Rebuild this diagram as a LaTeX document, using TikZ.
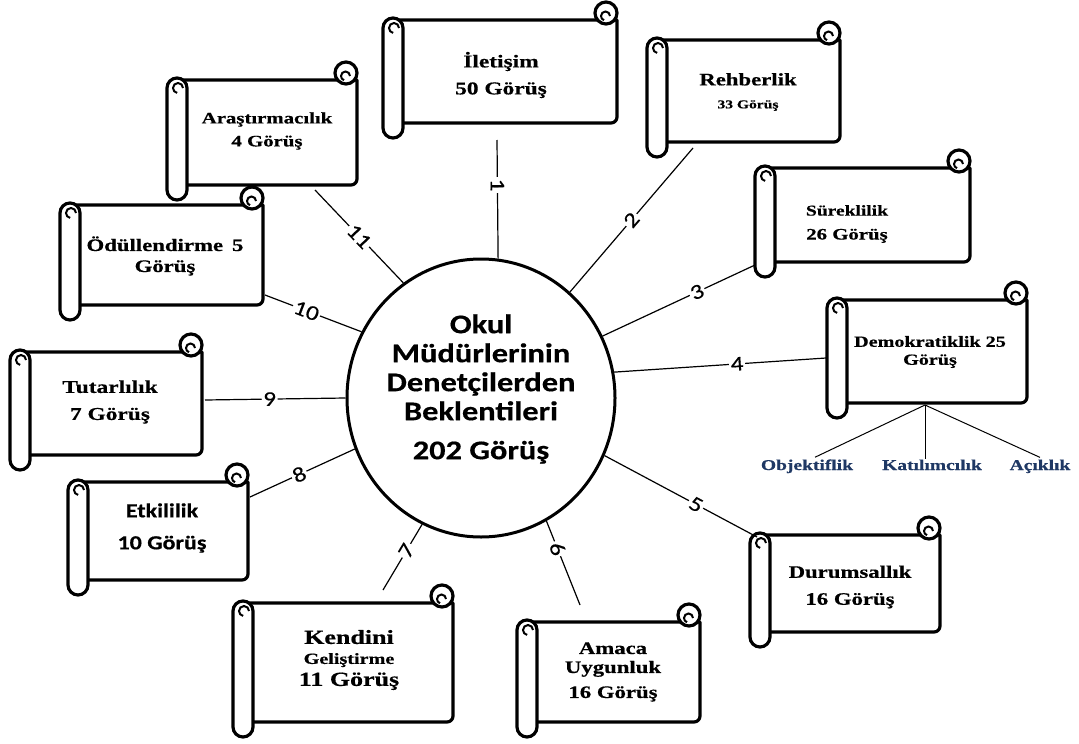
\documentclass[tikz,border=0pt]{standalone}
\usepackage{fontspec}
\setmainfont{Liberation Serif}
\newfontfamily\sheetfont{Liberation Serif}[UprightFont={* Bold}, FakeStretch=1.3, FakeBold=0.6]
\newfontfamily\hubfont{Carlito}[UprightFont={* Bold}, FakeStretch=1.2, FakeBold=0.5]
\newfontfamily\numfont{Carlito}[FakeStretch=1.2, FakeBold=0.4]
\usetikzlibrary{shapes.geometric,positioning,calc}
\definecolor{subblue}{RGB}{31,56,100}
\newcommand\fs[2]{\fontsize{#1}{#2}\selectfont}

\tikzset{
  sheet/.style={draw, line width=3.2pt, fill=white, line join=round},
  curl/.style={draw, line width=2pt},
  sheetbox/.style={inner sep=0pt, outer sep=0pt},
  sheettext/.style={align=center, inner sep=0pt},
  hub/.style={ellipse, draw, line width=3pt, minimum width=268pt, minimum height=278pt, inner sep=0pt},
  link/.style={line width=1.2pt},
  num/.style={sloped, fill=white, inner sep=1.5pt, font=\numfont\fs{21}{21}},
  sublabel/.style={inner sep=0pt, anchor=base, text=subblue, font=\sheetfont\fs{15}{15}}
}

% scroll: name, left, top, right, bottom, text x, text y, font, text
\newcommand\scrollsheet[9]{%
  \draw[sheet] ({#2+10},#3) -- (#4,#3) [rounded corners=6pt] -- (#4,#5) -- ({#2+10},#5) [sharp corners] -- cycle;
  \draw[sheet] ({#4-11},{#3-7}) circle[radius=11pt];
  \draw[curl] ({#4-7},{#3-4}) arc[start angle=0, end angle=250, radius=4.5pt];
  \draw[sheet, rounded corners=10pt] (#2,{#3-2}) rectangle ({#2+20},{#5+15});
  \draw[curl] ({#2+16},{#3+8}) arc[start angle=0, end angle=260, radius=5pt];
  \node[sheetbox, minimum width={#4-#2}, minimum height={#5-#3}] (#1) at ({(#2+#4)/2},{(#3+#5)/2}) {};
  \node[sheettext, font={\sheetfont#8}] at (#6,#7) {#9};
}

\begin{document}
\begin{tikzpicture}[x=1pt, y=-1pt]
\useasboundingbox (0,0) rectangle (1079,744);

% merkez
\node[hub] (hub) at (481,398) {};
\node[align=center, inner sep=0pt, font=\hubfont\fs{27}{29}] at (481,389)
  {Okul\\Müdürlerinin\\Denetçilerden\\Beklentileri\\[10pt]202 Görüş};

% parşömenler
\scrollsheet{ilet}{383}{20}{617}{123}{501}{75}{\fs{18}{27}}{İletişim\\50 Görüş}
\scrollsheet{reh}{647}{40}{840}{142}{748}{92}{\fs{17.5}{23}}{Rehberlik\\{\fs{12}{14}33 Görüş}}
\scrollsheet{aras}{167}{80}{357}{185}{267}{131}{\fs{16}{23}}{Araştırmacılık\\4 Görüş}
\scrollsheet{sure}{755}{168}{970}{262}{847}{224}{\fs{15}{24}}{Süreklilik\\{\fs{16}{16}26 Görüş}}
\scrollsheet{odul}{60}{205}{263}{305}{165}{256}{\fs{17.5}{21}}{Ödüllendirme\hspace{9pt}5\\Görüş}
\scrollsheet{demo}{827}{300}{1027}{403}{930}{352}{\fs{15.5}{18}}{Demokratiklik 25\\Görüş}
\scrollsheet{tut}{10}{352}{202}{455}{110}{402}{\fs{18}{27}}{Tutarlılık\\7 Görüş}
\scrollsheet{etk}{68}{482}{248}{580}{162}{528}{\hubfont\fs{20}{32}}{Etkililik\\10 Görüş}
\scrollsheet{kend}{233}{603}{453}{722}{349}{660}{\fs{20}{20}}{Kendini\\{\fs{15.5}{17}Geliştirme}\\[2pt]11 Görüş}
\scrollsheet{amac}{517}{622}{700}{722}{613}{672}{\fs{17.5}{19}}{Amaca\\Uygunluk\\[6pt]16 Görüş}
\scrollsheet{duru}{750}{535}{940}{632}{850}{587}{\fs{17.5}{27}}{Durumsallık\\16 Görüş}

% bağlantılar
\draw[link] (hub.83.8) -- node[num, pos=0.62] {1} ([shift={(-3,17)}]ilet.south);
\draw[link] (hub.50) -- node[num, pos=0.5] {2} ([shift={(-50.5,6)}]reh.south);
\draw[link] (hub.27) -- node[num, pos=0.62] {3} ([shift={(0,3)}]sure.south west);
\draw[link] (hub.11.9) -- node[num, pos=0.58] {4} ([shift={(-1,6.5)}]demo.west);
\draw[link] (hub.-25) -- node[num, pos=0.6] {5} ([shift={(7,2)}]duru.north west);
\draw[link] (hub.-62) -- node[num, pos=0.33] {6} ([shift={(-28.5,-17)}]amac.north);
\draw[link] (hub.-115) -- node[num, pos=0.4] {7} ([shift={(40,-13)}]kend.north);
\draw[link] (hub.-158) -- node[num, pos=0.53] {8} ([shift={(2,15)}]etk.north east);
\draw[link] (hub.180) -- node[num, pos=0.54] {9} ([shift={(3,-3.5)}]tut.east);
\draw[link] (hub.151.3) -- node[num, pos=0.57] {10} ([shift={(2,-10)}]odul.south east);
\draw[link] (hub.124.9) -- node[num, pos=0.5] {11} ([shift={(53,5)}]aras.south);

% demokratiklik alt boyutları
\node[sublabel] (obj) at (807,470) {Objektiflik};
\node[sublabel] (kat) at (932,470) {Katılımcılık};
\node[sublabel] (acik) at (1040,470) {Açıklık};
\coordinate (demojoin) at ([shift={(-2,2)}]demo.south);
\draw[link, line width=1pt] (demojoin) -- ([xshift=8pt, yshift=2pt]obj.north);
\draw[link, line width=1pt] (demojoin) -- ([xshift=-7pt]kat.north);
\draw[link, line width=1pt] (demojoin) -- ([yshift=2pt]acik.north);

\end{tikzpicture}
\end{document}
